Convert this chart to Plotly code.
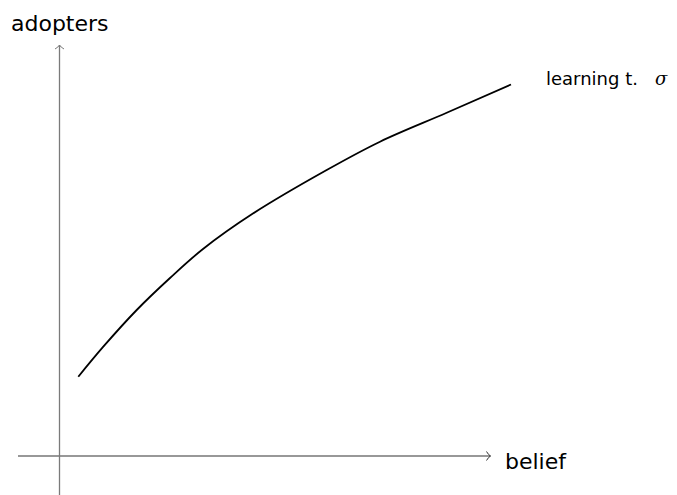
import plotly.graph_objects as go

# curve data (belief, adopters) in chart units
belief = [0.188, 0.438, 0.772, 1.105, 1.435, 1.938, 2.672, 3.205, 3.872, 4.515]
adopters = [0.793, 1.093, 1.46, 1.78, 2.07, 2.427, 2.86, 3.143, 3.432, 3.715]

x_label = "belief"
y_label = "adopters"
curve_label = "learning t.&nbsp;&nbsp;&nbsp;"

fig = go.Figure()
fig.add_trace(go.Scatter(x=belief, y=adopters, mode="lines",
                         line=dict(color="black", width=1.8, shape="spline", smoothing=1.0),
                         hoverinfo="skip", showlegend=False))

# axes
fig.add_shape(type="line", x0=-0.415, y0=0, x1=4.31, y1=0, xref="x", yref="y",
              line=dict(color="#333333", width=1.1))
fig.add_shape(type="line", x0=0, y0=-0.50, x1=0, y1=4.11, xref="x", yref="y",
              line=dict(color="#7a7a7a", width=1.3))
# arrowheads
fig.add_shape(type="path", path="M 4.27,0.045 Q 4.29,0.01 4.31,0 Q 4.29,-0.01 4.27,-0.045",
              xref="x", yref="y", line=dict(color="#333333", width=1))
fig.add_shape(type="path", path="M -0.045,4.07 Q -0.01,4.09 0,4.11 Q 0.01,4.09 0.045,4.07",
              xref="x", yref="y", line=dict(color="#7a7a7a", width=1))

font = "DejaVu Sans"
fig.add_annotation(x=0, y=4.33, text=y_label, showarrow=False, xanchor="center", yanchor="middle",
                   font=dict(family=font, size=22, color="black"))
fig.add_annotation(x=4.435, y=-0.05, text=x_label, showarrow=False, xanchor="left", yanchor="middle",
                   font=dict(family=font, size=22, color="black"))
fig.add_annotation(x=4.845, y=3.78,
                   text=curve_label + "<span style='font-family:DejaVu Serif;font-style:italic'>σ</span>",
                   showarrow=False, xanchor="left", yanchor="middle",
                   font=dict(family=font, size=18, color="black"))

# page body has an 8px offset; ranges chosen so origin lands at (59.5, 456) on screen
fig.update_xaxes(range=[-0.515, 6.255], visible=False)
fig.update_yaxes(range=[-0.47, 4.48], visible=False)
fig.update_layout(width=677, height=495, margin=dict(l=0, r=0, t=0, b=0),
                  plot_bgcolor="white", paper_bgcolor="white")
fig.write_html("out.html")
